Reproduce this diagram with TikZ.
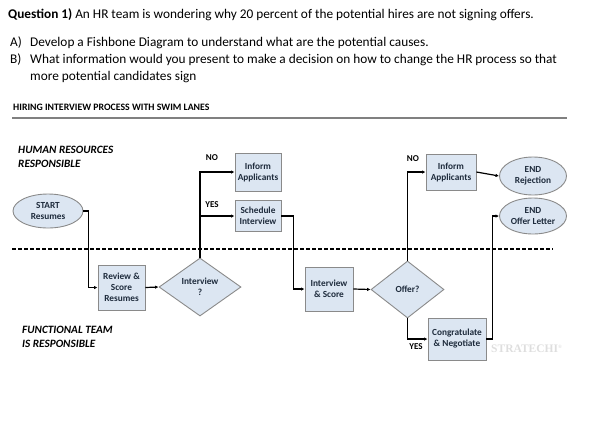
\documentclass[tikz,border=0pt]{standalone}
\usepackage{fontspec}
\setmainfont{Carlito}
\newfontfamily\wmfont{Liberation Serif}
\usetikzlibrary{shapes.geometric,arrows.meta}
\definecolor{boxfill}{HTML}{DCE6F2}
\definecolor{boxline}{HTML}{8A8A8A}
\definecolor{boxtext}{HTML}{1E2B3C}
\begin{document}
\begin{tikzpicture}[x=1pt,y=-1pt,
  boxfont/.style={font=\bfseries\fontsize{9.3}{11}\selectfont},
  proc/.style={rectangle,draw=boxline,line width=0.9pt,fill=boxfill,text=boxtext,
    boxfont,align=center,inner sep=0.5pt},
  dec/.style={diamond,draw=boxline,line width=0.9pt,fill=boxfill,text=boxtext,
    boxfont,align=center,inner sep=0pt},
  term/.style={ellipse,draw=boxline,line width=0.9pt,fill=boxfill,text=boxtext,
    boxfont,align=center,inner sep=0pt},
  arr/.style={line width=1.2pt,-{Latex[length=3.5pt,width=3.5pt]}},
  lbl/.style={font=\bfseries\fontsize{9}{10}\selectfont,text=black,inner sep=0pt},
  lane/.style={font=\bfseries\itshape\fontsize{11.2}{14}\selectfont,align=left,anchor=west,inner sep=0pt},
  txt/.style={anchor=west,inner sep=0pt,font=\fontsize{13.3}{15}\selectfont}
]
\useasboundingbox (0,0) rectangle (591,424);
% header text
\node[txt] (q) at (8,15) {\textbf{Question 1)} An HR team is wondering why 20 percent of the potential hires are not signing offers.};
\node[txt] (al) at (10,43) {A)};
\node[txt] (a) at (30,43) {Develop a Fishbone Diagram to understand what are the potential causes.};
\node[txt] (bl) at (10,60) {B)};
\node[txt] (b) at (30,60) {What information would you present to make a decision on how to change the HR process so that};
\node[txt] (b2) at (30,77) {more potential candidates sign};
\node[anchor=west,inner sep=0pt,font=\bfseries\fontsize{9.8}{11}\selectfont] (hdr) at (13,107) {HIRING INTERVIEW PROCESS WITH SWIM LANES};
\coordinate (r1) at (12,118);
\coordinate (r2) at (567,118);
\draw[gray,line width=1.2pt] (r1) -- (r2);
% lanes
\node[lane] (hr) at (18,157) {HUMAN RESOURCES\\RESPONSIBLE};
\node[lane] (ft) at (22,337) {FUNCTIONAL TEAM\\IS RESPONSIBLE};
\coordinate (d1) at (12,249);
\coordinate (d2) at (553,249);
\draw[line width=1.1pt,dash pattern=on 3.5pt off 2.5pt] (d1) -- (d2);
% nodes
\node[term,minimum width=70pt,minimum height=34pt] (start) at (48,211) {START\\Resumes};
\node[proc,minimum width=47pt,minimum height=45pt] (review) at (121.5,287.5) {Review \&\\Score\\Resumes};
\node[dec,minimum width=82pt,minimum height=58pt] (int) at (200,287) {Interview\\?};
\node[proc,minimum width=46pt,minimum height=38pt] (inf1) at (258,172) {Inform\\Applicants};
\node[proc,minimum width=46pt,minimum height=31pt] (sched) at (258,216) {Schedule\\Interview};
\node[proc,minimum width=48pt,minimum height=44pt] (isc) at (329,289) {Interview\\\& Score};
\node[dec,minimum width=73pt,minimum height=57pt] (offer) at (407.5,289.5) {Offer?};
\node[proc,minimum width=50pt,minimum height=36pt] (inf2) at (451,172) {Inform\\Applicants};
\node[term,minimum width=67pt,minimum height=38pt] (endrej) at (533,176) {END\\Rejection};
\node[term,minimum width=67pt,minimum height=36pt] (endoff) at (533,216) {END\\Offer Letter};
\node[proc,minimum width=58pt,minimum height=42pt] (cong) at (457,339) {Congratulate\\\& Negotiate};
% labels
\node[lbl] (no1) at (212,158) {NO};
\node[lbl] (yes1) at (212,205) {YES};
\node[lbl] (no2) at (413,159) {NO};
\node[lbl] (yes2) at (416,347) {YES};
\node[anchor=west,inner sep=0pt,text=black!13,font=\wmfont\bfseries\fontsize{11.5}{12}\selectfont] (wm) at (491,349) {STRATECHI\textsuperscript{\tiny ®}};
% connectors
\draw[arr] (start.east) -- ++(5,0) |- (review.west);
\draw[arr] (review.east) -- (int.west);
\draw[arr] (int.north) |- (inf1.west);
\draw[arr] (int.north) |- (sched.west);
\draw[arr] (sched.east) -- ++(12,0) |- (isc.west);
\draw[arr] (isc.east) -- (offer.west);
\draw[arr] (offer.north) |- (inf2.west);
\draw[arr] (inf2.east) -- (endrej.west);
\draw[arr] (offer.south) |- (cong.west);
\draw[arr] (cong.east) -- ++(6,0) |- (endoff.west);
\end{tikzpicture}
\end{document}
